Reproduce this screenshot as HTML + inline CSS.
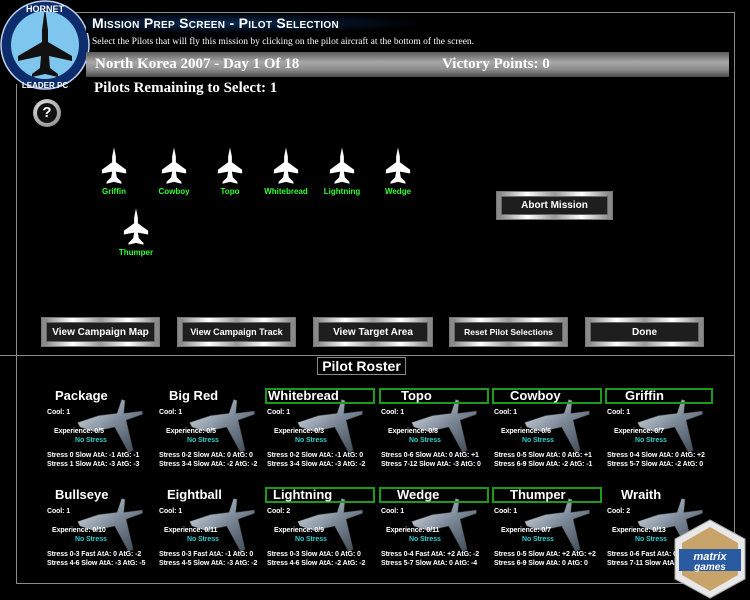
<!DOCTYPE html>
<html><head><meta charset="utf-8">
<style>
*{margin:0;padding:0;box-sizing:border-box}
body{width:750px;height:600px;background:#000;position:relative;overflow:hidden;font-family:"Liberation Sans",sans-serif;color:#fff}
.a{position:absolute}
.line{position:absolute;background:#8a8a8a}
.btn{position:absolute;height:28px;border:4px solid #c8c8c8;background:#1e1e1e;box-shadow:inset 0 0 0 1px #666,0 0 0 1px #777;font-weight:bold;font-size:10px;color:#fff;text-align:center;line-height:21px;background-clip:padding-box}
.btn{border-image:linear-gradient(90deg,#888,#fff,#999,#fff,#888) 1}
.jl{position:absolute;font-size:8px;font-weight:bold;color:#3f3;width:60px;text-align:center}
.card{position:absolute;width:112px;height:90px;font-weight:bold}
.card .nm{position:absolute;left:0;top:0;width:110px;height:16px;font-size:13px;line-height:15px}
.card .nm.g{border:2px solid #1c9a1c;line-height:12px;padding-left:1px}
.card .s{position:absolute;font-size:7px;white-space:nowrap;letter-spacing:-0.1px}
.card .ns{color:#3cc}
.card svg{position:absolute;left:30px;top:9px}
</style></head><body>
<!-- frame -->
<div class="line" style="left:58px;top:12px;width:677px;height:1px"></div>
<div class="line" style="left:734px;top:12px;width:1px;height:572px"></div>
<div class="line" style="left:16px;top:84px;width:1px;height:500px"></div>
<div class="line" style="left:16px;top:583px;width:719px;height:1px"></div>
<div class="line" style="left:0px;top:355px;width:735px;height:1px"></div>

<!-- logo -->
<svg class="a" style="left:0;top:0" width="92" height="92" viewBox="0 0 92 92">
<circle cx="45" cy="45" r="44" fill="#0d2c6b" stroke="#c0d0f0" stroke-width="1.5"/>
<circle cx="45" cy="45" r="34" fill="#7ec6ee"/>
<path d="M45 8 L48 30 L48 42 L72 56 L72 61 L49 56 L50 68 L58 74 L58 77 L45 74 L32 77 L32 74 L40 68 L41 56 L18 61 L18 56 L42 42 L42 30 Z" fill="#111"/>
<text x="45" y="12" font-size="9" font-weight="bold" fill="#fff" text-anchor="middle" font-family="Liberation Sans">HORNET</text>
<text x="45" y="88" font-size="8" font-weight="bold" fill="#fff" text-anchor="middle" font-family="Liberation Sans">LEADER PC</text>
</svg>

<!-- title -->
<div class="a" style="left:86px;top:13px;width:330px;height:20px;background:radial-gradient(ellipse at 40% 50%,#0a2a55,#000 75%)"></div>
<div class="a" style="left:92px;top:15px;font-size:14px;font-weight:bold;letter-spacing:0.3px;font-variant:small-caps">Mission Prep Screen - Pilot Selection</div>
<div class="a" style="left:92px;top:37px;font-family:'Liberation Serif',serif;font-size:9.5px">Select the Pilots that will fly this mission by clicking on the pilot aircraft at the bottom of the screen.</div>
<div class="a" style="left:86px;top:52px;width:643px;height:25px;background:linear-gradient(180deg,#5a5a5a,#a8a8a8 40%,#8c8c8c 70%,#4a4a4a)"></div>
<div class="a" style="left:95px;top:56px;font-family:'Liberation Serif',serif;font-size:15px;font-weight:bold">North Korea 2007 - Day 1 Of 18</div>
<div class="a" style="left:442px;top:56px;font-family:'Liberation Serif',serif;font-size:15px;font-weight:bold">Victory Points: 0</div>
<div class="a" style="left:94px;top:80px;font-family:'Liberation Serif',serif;font-size:15px;font-weight:bold">Pilots Remaining to Select: 1</div>
<div class="a" style="left:33px;top:99px;width:28px;height:28px;border-radius:50%;background:radial-gradient(circle at 40% 35%,#eee,#777);"></div>
<div class="a" style="left:37px;top:103px;width:20px;height:20px;border-radius:50%;background:#111;color:#fff;font-size:15px;font-weight:bold;text-align:center;line-height:20px">?</div>

<!-- white jets -->
<svg width="0" height="0" style="position:absolute"><defs><symbol id="wj" viewBox="0 0 30 40"><path d="M15 0 L17 10 L17 16 L28 24 L28 28 L17 26 L18 32 L23 37 L23 39 L15 37 L7 39 L7 37 L12 32 L13 26 L2 28 L2 24 L13 16 L13 10 Z" fill="#fff"/></symbol></defs></svg>
<svg class="a" style="left:100px;top:147px" width="28" height="38"><use href="#wj"/></svg><div class="jl" style="left:84px;top:187px">Griffin</div>
<svg class="a" style="left:160px;top:147px" width="28" height="38"><use href="#wj"/></svg><div class="jl" style="left:144px;top:187px">Cowboy</div>
<svg class="a" style="left:216px;top:147px" width="28" height="38"><use href="#wj"/></svg><div class="jl" style="left:200px;top:187px">Topo</div>
<svg class="a" style="left:272px;top:147px" width="28" height="38"><use href="#wj"/></svg><div class="jl" style="left:256px;top:187px">Whitebread</div>
<svg class="a" style="left:328px;top:147px" width="28" height="38"><use href="#wj"/></svg><div class="jl" style="left:312px;top:187px">Lightning</div>
<svg class="a" style="left:384px;top:147px" width="28" height="38"><use href="#wj"/></svg><div class="jl" style="left:368px;top:187px">Wedge</div>
<svg class="a" style="left:122px;top:208px" width="28" height="38"><use href="#wj"/></svg><div class="jl" style="left:106px;top:248px">Thumper</div>

<div class="btn" style="left:497px;top:192px;width:115px;height:27px;font-size:10px;line-height:20px">Abort Mission</div>

<div class="btn" style="left:42px;top:318px;width:117px">View Campaign Map</div>
<div class="btn" style="left:178px;top:318px;width:117px;font-size:9px">View Campaign Track</div>
<div class="btn" style="left:314px;top:318px;width:118px">View Target Area</div>
<div class="btn" style="left:450px;top:318px;width:117px;font-size:8.5px">Reset Pilot Selections</div>
<div class="btn" style="left:586px;top:318px;width:117px">Done</div>

<div class="a" style="left:317px;top:357px;width:89px;height:18px;border:1px solid #888;background:#000;font-size:14px;font-weight:bold;text-align:center;line-height:16px">Pilot Roster</div>

<svg width="0" height="0" style="position:absolute"><defs>
<linearGradient id="gj" x1="0" y1="0" x2="1" y2="1"><stop offset="0" stop-color="#dfe6ee"/><stop offset="0.5" stop-color="#7d8a98"/><stop offset="1" stop-color="#3a4450"/></linearGradient>
<symbol id="gjet" viewBox="0 0 60 50"><path d="M2 22 L20 16 L36 14 L40 2 L43 3 L42 14 L58 12 L58 15 L44 20 L50 46 L46 48 L34 26 L16 30 L4 26 Z" fill="url(#gj)" stroke="#333" stroke-width="0.5"/></symbol></defs></svg>

<!-- cards row 1 -->
<div class="card" style="left:45px;top:388px"><svg width="70" height="58"><use href="#gjet"/></svg><div class="nm" style="padding-left:10px">Package</div><div class="s" style="left:2px;top:21px">Cool: 1</div><div class="s" style="left:9px;top:40px">Experience: 0/5</div><div class="s ns" style="left:30px;top:49px">No Stress</div><div class="s" style="left:2px;top:64px">Stress 0 Slow AtA: -1 AtG: -1</div><div class="s" style="left:2px;top:73px">Stress 1 Slow AtA: -3 AtG: -3</div></div>
<div class="card" style="left:157px;top:388px"><svg width="70" height="58"><use href="#gjet"/></svg><div class="nm" style="padding-left:12px">Big Red</div><div class="s" style="left:2px;top:21px">Cool: 1</div><div class="s" style="left:9px;top:40px">Experience: 0/5</div><div class="s ns" style="left:30px;top:49px">No Stress</div><div class="s" style="left:2px;top:64px">Stress 0-2 Slow AtA: 0 AtG: 0</div><div class="s" style="left:2px;top:73px">Stress 3-4 Slow AtA: -2 AtG: -2</div></div>
<div class="card" style="left:265px;top:388px"><svg width="70" height="58"><use href="#gjet"/></svg><div class="nm g">Whitebread</div><div class="s" style="left:2px;top:21px">Cool: 1</div><div class="s" style="left:9px;top:40px">Experience: 0/3</div><div class="s ns" style="left:30px;top:49px">No Stress</div><div class="s" style="left:2px;top:64px">Stress 0-2 Slow AtA: -1 AtG: 0</div><div class="s" style="left:2px;top:73px">Stress 3-4 Slow AtA: -3 AtG: -2</div></div>
<div class="card" style="left:379px;top:388px"><svg width="70" height="58"><use href="#gjet"/></svg><div class="nm g" style="padding-left:20px">Topo</div><div class="s" style="left:2px;top:21px">Cool: 1</div><div class="s" style="left:9px;top:40px">Experience: 0/8</div><div class="s ns" style="left:30px;top:49px">No Stress</div><div class="s" style="left:2px;top:64px">Stress 0-6 Slow AtA: 0 AtG: +1</div><div class="s" style="left:2px;top:73px">Stress 7-12 Slow AtA: -3 AtG: 0</div></div>
<div class="card" style="left:492px;top:388px"><svg width="70" height="58"><use href="#gjet"/></svg><div class="nm g" style="padding-left:16px">Cowboy</div><div class="s" style="left:2px;top:21px">Cool: 1</div><div class="s" style="left:9px;top:40px">Experience: 0/6</div><div class="s ns" style="left:30px;top:49px">No Stress</div><div class="s" style="left:2px;top:64px">Stress 0-5 Slow AtA: 0 AtG: +1</div><div class="s" style="left:2px;top:73px">Stress 6-9 Slow AtA: -2 AtG: -1</div></div>
<div class="card" style="left:605px;top:388px"><svg width="70" height="58"><use href="#gjet"/></svg><div class="nm g" style="padding-left:18px;width:108px">Griffin</div><div class="s" style="left:2px;top:21px">Cool: 1</div><div class="s" style="left:9px;top:40px">Experience: 0/7</div><div class="s ns" style="left:30px;top:49px">No Stress</div><div class="s" style="left:2px;top:64px">Stress 0-4 Slow AtA: 0 AtG: +2</div><div class="s" style="left:2px;top:73px">Stress 5-7 Slow AtA: -2 AtG: 0</div></div>

<!-- cards row 2 -->
<div class="card" style="left:45px;top:487px"><svg width="70" height="58"><use href="#gjet"/></svg><div class="nm" style="padding-left:10px">Bullseye</div><div class="s" style="left:2px;top:21px">Cool: 1</div><div class="s" style="left:7px;top:40px">Experience: 0/10</div><div class="s ns" style="left:30px;top:49px">No Stress</div><div class="s" style="left:2px;top:64px">Stress 0-3 Fast AtA: 0 AtG: -2</div><div class="s" style="left:2px;top:73px">Stress 4-6 Slow AtA: -3 AtG: -5</div></div>
<div class="card" style="left:157px;top:487px"><svg width="70" height="58"><use href="#gjet"/></svg><div class="nm" style="padding-left:10px">Eightball</div><div class="s" style="left:2px;top:21px">Cool: 1</div><div class="s" style="left:7px;top:40px">Experience: 0/11</div><div class="s ns" style="left:30px;top:49px">No Stress</div><div class="s" style="left:2px;top:64px">Stress 0-3 Fast AtA: -1 AtG: 0</div><div class="s" style="left:2px;top:73px">Stress 4-5 Slow AtA: -3 AtG: -2</div></div>
<div class="card" style="left:265px;top:487px"><svg width="70" height="58"><use href="#gjet"/></svg><div class="nm g" style="padding-left:6px">Lightning</div><div class="s" style="left:2px;top:21px">Cool: 2</div><div class="s" style="left:9px;top:40px">Experience: 0/9</div><div class="s ns" style="left:30px;top:49px">No Stress</div><div class="s" style="left:2px;top:64px">Stress 0-3 Slow AtA: 0 AtG: 0</div><div class="s" style="left:2px;top:73px">Stress 4-6 Slow AtA: -2 AtG: -2</div></div>
<div class="card" style="left:379px;top:487px"><svg width="70" height="58"><use href="#gjet"/></svg><div class="nm g" style="padding-left:16px">Wedge</div><div class="s" style="left:2px;top:21px">Cool: 1</div><div class="s" style="left:7px;top:40px">Experience: 0/11</div><div class="s ns" style="left:30px;top:49px">No Stress</div><div class="s" style="left:2px;top:64px">Stress 0-4 Fast AtA: +2 AtG: -2</div><div class="s" style="left:2px;top:73px">Stress 5-7 Slow AtA: 0 AtG: -4</div></div>
<div class="card" style="left:492px;top:487px"><svg width="70" height="58"><use href="#gjet"/></svg><div class="nm g" style="padding-left:16px">Thumper</div><div class="s" style="left:2px;top:21px">Cool: 1</div><div class="s" style="left:9px;top:40px">Experience: 0/7</div><div class="s ns" style="left:30px;top:49px">No Stress</div><div class="s" style="left:2px;top:64px">Stress 0-5 Slow AtA: +2 AtG: +2</div><div class="s" style="left:2px;top:73px">Stress 6-9 Slow AtA: 0 AtG: 0</div></div>
<div class="card" style="left:605px;top:487px"><svg width="70" height="58"><use href="#gjet"/></svg><div class="nm" style="padding-left:16px">Wraith</div><div class="s" style="left:2px;top:21px">Cool: 2</div><div class="s" style="left:7px;top:40px">Experience: 0/13</div><div class="s ns" style="left:30px;top:49px">No Stress</div><div class="s" style="left:2px;top:64px">Stress 0-6 Fast AtA: 0 AtG: 0</div><div class="s" style="left:2px;top:73px">Stress 7-11 Slow AtA: -2 AtG: -2</div></div>

<!-- matrix games badge -->
<svg class="a" style="left:673px;top:519px" width="74" height="80" viewBox="0 0 74 80">
<polygon points="37,1 72,20 72,60 37,79 2,60 2,20" fill="#e8e8e8" stroke="#aaa"/>
<polygon points="37,8 65,24 65,56 37,72 9,56 9,24" fill="#c9a46a"/>
<rect x="6" y="30" width="62" height="22" fill="#2a5aa0"/>
<text x="37" y="41" font-size="11" font-weight="bold" font-style="italic" fill="#fff" text-anchor="middle" font-family="Liberation Sans">matrix</text>
<text x="37" y="51" font-size="10" font-weight="bold" font-style="italic" fill="#fff" text-anchor="middle" font-family="Liberation Sans">games</text>
</svg>
</body></html>
